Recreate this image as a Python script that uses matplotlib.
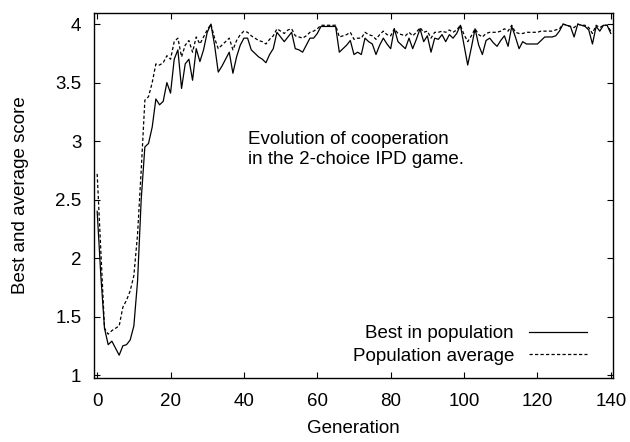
import numpy as np
import matplotlib
matplotlib.use("Agg")
import matplotlib.pyplot as plt

# Values, one per generation (0..140)
GENERATIONS = list(range(0, 141))

BEST = [
    2.40, 1.85, 1.40, 1.26, 1.29, 1.23, 1.17, 1.25, 1.26, 1.30,
    1.42, 1.80, 2.50, 2.95, 2.98, 3.12, 3.36, 3.31, 3.34, 3.50,
    3.41, 3.70, 3.78, 3.45, 3.66, 3.70, 3.52, 3.79, 3.68, 3.78,
    3.93, 4.00, 3.82, 3.59, 3.64, 3.70, 3.76, 3.58, 3.72, 3.82,
    3.88, 3.88, 3.78, 3.75, 3.72, 3.70, 3.67, 3.74, 3.79, 3.93,
    3.89, 3.85, 3.89, 3.93, 3.79, 3.78, 3.76, 3.82, 3.88, 3.88,
    3.92, 3.98, 3.98, 3.98, 3.98, 3.98, 3.76, 3.79, 3.82, 3.86,
    3.74, 3.76, 3.74, 3.88, 3.85, 3.83, 3.74, 3.82, 3.88, 3.83,
    3.79, 3.96, 3.85, 3.82, 3.79, 3.88, 3.79, 3.87, 3.96, 3.85,
    3.90, 3.76, 3.88, 3.87, 3.91, 3.85, 3.91, 3.88, 3.92, 3.99,
    3.82, 3.65, 3.80, 3.96, 3.82, 3.74, 3.86, 3.88, 3.84, 3.81,
    3.86, 3.90, 3.81, 3.98, 3.89, 3.79, 3.85, 3.83, 3.83, 3.83,
    3.83, 3.86, 3.89, 3.89, 3.89, 3.90, 3.94, 4.00, 3.99, 3.98,
    3.89, 4.00, 3.99, 3.98, 3.95, 3.83, 3.98, 3.94, 3.99, 3.99,
    3.92,
]

AVERAGE = [
    2.72, 2.05, 1.40, 1.35, 1.38, 1.40, 1.42, 1.58, 1.64, 1.72,
    1.85, 2.20, 2.75, 3.35, 3.38, 3.50, 3.66, 3.65, 3.67, 3.73,
    3.70, 3.85, 3.88, 3.72, 3.82, 3.86, 3.76, 3.89, 3.83, 3.89,
    3.95, 4.00, 3.88, 3.79, 3.82, 3.85, 3.88, 3.78, 3.86, 3.91,
    3.94, 3.93, 3.90, 3.88, 3.86, 3.85, 3.83, 3.87, 3.90, 3.96,
    3.94, 3.92, 3.95, 3.96, 3.90, 3.89, 3.88, 3.90, 3.93, 3.94,
    3.96, 3.99, 3.99, 3.99, 3.99, 3.99, 3.89, 3.90, 3.91, 3.93,
    3.87, 3.88, 3.88, 3.93, 3.91, 3.90, 3.87, 3.91, 3.94, 3.91,
    3.90, 3.96, 3.92, 3.91, 3.90, 3.93, 3.90, 3.93, 3.97, 3.93,
    3.94, 3.88, 3.93, 3.93, 3.94, 3.93, 3.95, 3.93, 3.95, 3.99,
    3.91, 3.85, 3.90, 3.96, 3.91, 3.89, 3.92, 3.93, 3.93, 3.93,
    3.94, 3.96, 3.94, 3.99, 3.93, 3.92, 3.92, 3.93, 3.93, 3.93,
    3.93, 3.94, 3.94, 3.94, 3.94, 3.95, 3.96, 4.00, 3.99, 3.98,
    3.97, 4.00, 3.99, 3.99, 3.97, 3.92, 3.99, 3.97, 3.99, 3.99,
    3.94,
]

X_TICKS = [0, 20, 40, 60, 80, 100, 120, 140]
Y_TICKS = [1, 1.5, 2, 2.5, 3, 3.5, 4]
Y_TICK_LABELS = ["1", "1.5", "2", "2.5", "3", "3.5", "4"]

FONT = "Liberation Sans"
FS = 13.5


def main():
    plt.rcParams["font.family"] = [FONT, "DejaVu Sans"]
    fig = plt.figure(figsize=(6.3, 4.42), dpi=100)
    ax = fig.add_axes([0.149, 0.1448, 0.824, 0.8258])

    ax.plot(GENERATIONS, BEST, color="black", lw=0.9, label="Best in population")
    ax.plot(GENERATIONS, AVERAGE, color="black", lw=0.9,
            dashes=(2.6, 1.8), label="Population average")

    ax.set_xlim(-0.9, 140.6)
    ax.set_ylim(0.975, 4.095)
    ax.set_xticks(X_TICKS)
    ax.set_yticks(Y_TICKS)
    ax.set_yticklabels(Y_TICK_LABELS)
    ax.tick_params(direction="in", length=4, width=0.8, top=True, right=True,
                   labelsize=FS, pad=9)
    ax.tick_params(axis="x", pad=11)
    for sp in ax.spines.values():
        sp.set_linewidth(1.0)

    ax.set_xlabel("Generation", fontsize=FS, labelpad=7)
    ax.set_ylabel("Best and average score", fontsize=FS, labelpad=19)

    ax.text(41.2, 3.09, "Evolution of cooperation\nin the 2-choice IPD game.",
            fontsize=FS, ha="left", va="top", linespacing=1.3)

    ax.legend(loc="lower right", bbox_to_anchor=(0.95, 0.036),
              frameon=False, markerfirst=False,
              fontsize=FS, handlelength=3.1, handletextpad=0.8,
              labelspacing=0.3, borderaxespad=0.0, borderpad=0.0)

    fig.savefig("out.png", dpi=100)


if __name__ == "__main__":
    main()
